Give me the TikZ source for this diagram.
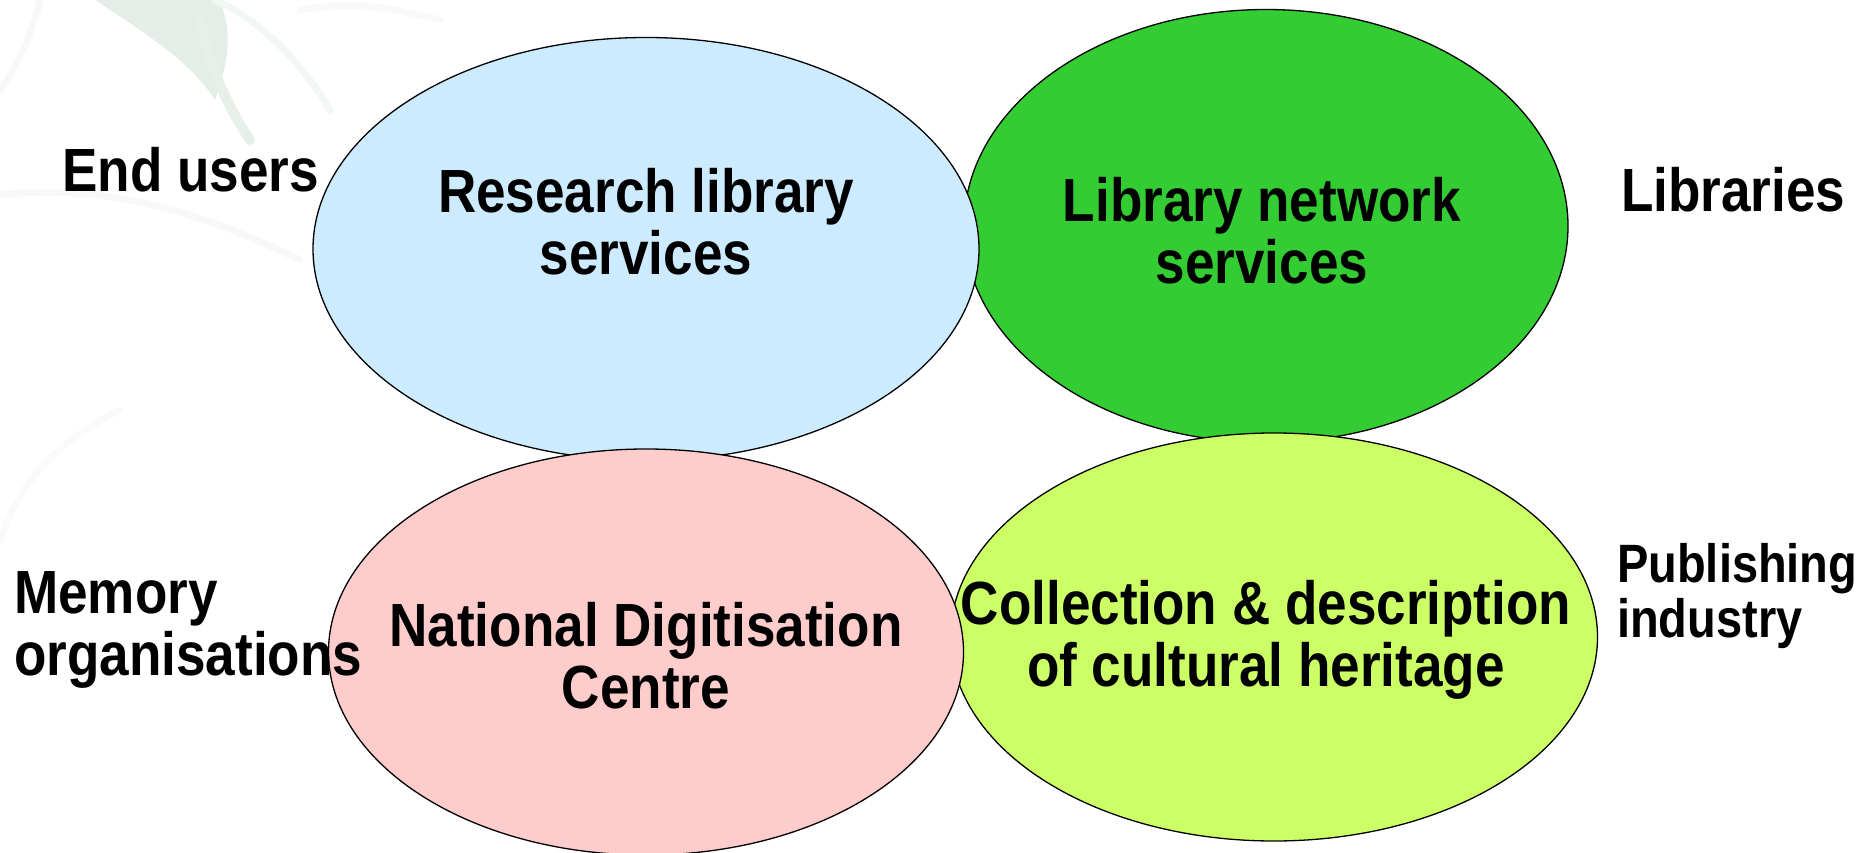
\documentclass[tikz,border=0pt]{standalone}
\usepackage{fontspec}
\setmainfont[FakeStretch=0.87]{Liberation Sans}
\usetikzlibrary{shapes.geometric}
\definecolor{cblue}{HTML}{CCEBFF}
\definecolor{cgreen}{HTML}{33CC33}
\definecolor{cpink}{HTML}{FFCCCC}
\definecolor{clime}{HTML}{CCFF66}
\definecolor{wm}{HTML}{DDE8E0}
\tikzset{
  blob/.style={draw=black, line width=1.3pt},
  lbl/.style={font=\fontsize{61}{62}\selectfont\bfseries, align=center, inner sep=0pt},
  side/.style={font=\fontsize{61}{62}\selectfont\bfseries, align=left, inner sep=0pt},
  sidesmall/.style={font=\fontsize{54}{55}\selectfont\bfseries, align=left, inner sep=0pt},
}
\begin{document}
\begin{tikzpicture}[x=1pt,y=-1pt]
\useasboundingbox (0,0) rectangle (1876,853);
% faint background watermark
\begin{scope}[line cap=round]
\fill[wm!80] (95,0) .. controls (140,30) and (190,60) .. (215,100) .. controls (225,70) and (235,40) .. (220,0) -- cycle;
\draw[wm!70, line width=10pt] (200,20) .. controls (210,70) and (230,110) .. (250,140);
\draw[wm!35, line width=7pt] (215,0) .. controls (260,20) and (300,60) .. (330,110);
\draw[wm!25, line width=7pt] (0,195) .. controls (80,185) and (180,200) .. (300,260);
\draw[wm!25, line width=7pt] (40,0) .. controls (30,40) and (15,70) .. (0,90);
\draw[wm!20, line width=7pt] (300,10) .. controls (360,0) and (400,10) .. (440,20);
\draw[wm!18, line width=7pt] (0,540) .. controls (20,480) and (60,440) .. (120,410);
\end{scope}
\node[blob, ellipse, fill=cgreen, minimum width=604, minimum height=433] (green) at (1266,226) {};
\node[blob, ellipse, fill=cblue, minimum width=666, minimum height=423] (blue) at (646,249) {};
\node[blob, ellipse, fill=clime, minimum width=647, minimum height=408] (lime) at (1274,637) {};
\node[blob, ellipse, fill=cpink, minimum width=635, minimum height=406] (pink) at (646,652) {};
\node[lbl] (tblue) at (646,222) {Research library\\services};
\node[lbl] (tgreen) at (1262,231) {Library network\\services};
\node[lbl] (tpink) at (646,656) {National Digitisation\\Centre};
\node[lbl] (tlime) at (1266,640) {Collection \& description\\of cultural heritage};
\node[side, anchor=west] (endusers) at (62,170) {End users};
\node[side, anchor=west] (libs) at (1621,190) {Libraries};
\node[side, anchor=west] (memory) at (14,630) {Memory\\organisations};
\node[sidesmall, anchor=west] (publ) at (1617,596) {Publishing\\industry};
\end{tikzpicture}
\end{document}
